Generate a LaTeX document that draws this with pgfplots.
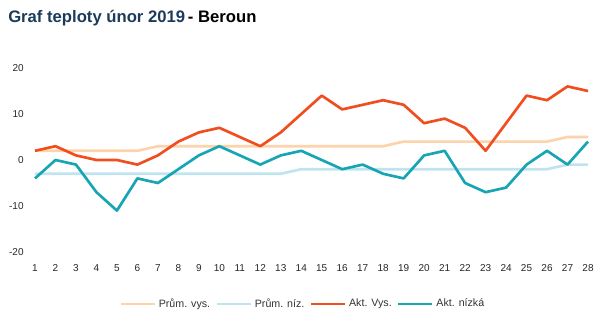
\documentclass[border=0pt]{standalone}
\usepackage{pgfplots}
\pgfplotsset{compat=1.18}
\usepackage{fontspec}
\setmainfont{Liberation Sans}
\definecolor{cPV}{HTML}{FDD3AB}
\definecolor{cPN}{HTML}{BFE4F0}
\definecolor{cAV}{HTML}{F04E1E}
\definecolor{cAN}{HTML}{17A5B3}
\definecolor{cTitle}{HTML}{1C3A5A}
\begin{document}
\begin{tikzpicture}
\path[use as bounding box] (0pt,0pt) rectangle (450pt,240.75pt);
\node[anchor=base west,inner sep=0pt,font=\bfseries\fontsize{12.5}{14}\selectfont] at (6pt,223.5pt) {\textcolor{cTitle}{Graf teploty únor 2019}\,- Beroun};
\begin{axis}[
  at={(26.25pt,51.75pt)}, anchor=south west,
  scale only axis, width=414.75pt, height=138pt,
  xmin=1, xmax=28, ymin=-20, ymax=20,
  axis line style={draw=none}, tick style={draw=none},
  xtick={1,...,28}, ytick={-20,-10,0,10,20},
  /pgf/number format/assume math mode=true,
  tick label style={font=\fontsize{7.5}{9}\selectfont, text=black!85},
  xticklabel style={yshift=-6pt},
  yticklabel style={xshift=-5pt},
  clip=false,
  legend style={at={(0.485,-0.283)}, anchor=center, draw=none, fill=none,
    legend columns=-1, font=\fontsize{8}{9}\selectfont, text=black!80,
    /tikz/every even column/.append style={column sep=2pt}},
  legend image code/.code={\draw[#1] (0pt,0pt) -- (25.5pt,0pt);},
  every axis plot/.append style={line width=2pt, line join=round},
]
\addplot[cPV] coordinates {(1,2)(2,2)(3,2)(4,2)(5,2)(6,2)(7,3)(8,3)(9,3)(10,3)(11,3)(12,3)(13,3)(14,3)(15,3)(16,3)(17,3)(18,3)(19,4)(20,4)(21,4)(22,4)(23,4)(24,4)(25,4)(26,4)(27,5)(28,5)};
\addlegendentry{Prům. vys.}
\addplot[cPN] coordinates {(1,-3)(2,-3)(3,-3)(4,-3)(5,-3)(6,-3)(7,-3)(8,-3)(9,-3)(10,-3)(11,-3)(12,-3)(13,-3)(14,-2)(15,-2)(16,-2)(17,-2)(18,-2)(19,-2)(20,-2)(21,-2)(22,-2)(23,-2)(24,-2)(25,-2)(26,-2)(27,-1)(28,-1)};
\addlegendentry{Prům. níz.}
\addplot[cAV] coordinates {(1,2)(2,3)(3,1)(4,0)(5,0)(6,-1)(7,1)(8,4)(9,6)(10,7)(11,5)(12,3)(13,6)(14,10)(15,14)(16,11)(17,12)(18,13)(19,12)(20,8)(21,9)(22,7)(23,2)(24,8)(25,14)(26,13)(27,16)(28,15)};
\addlegendentry{Akt. Vys.}
\addplot[cAN] coordinates {(1,-4)(2,0)(3,-1)(4,-7)(5,-11)(6,-4)(7,-5)(8,-2)(9,1)(10,3)(11,1)(12,-1)(13,1)(14,2)(15,0)(16,-2)(17,-1)(18,-3)(19,-4)(20,1)(21,2)(22,-5)(23,-7)(24,-6)(25,-1)(26,2)(27,-1)(28,4)};
\addlegendentry{Akt. nízká}
\end{axis}
\end{tikzpicture}
\end{document}
